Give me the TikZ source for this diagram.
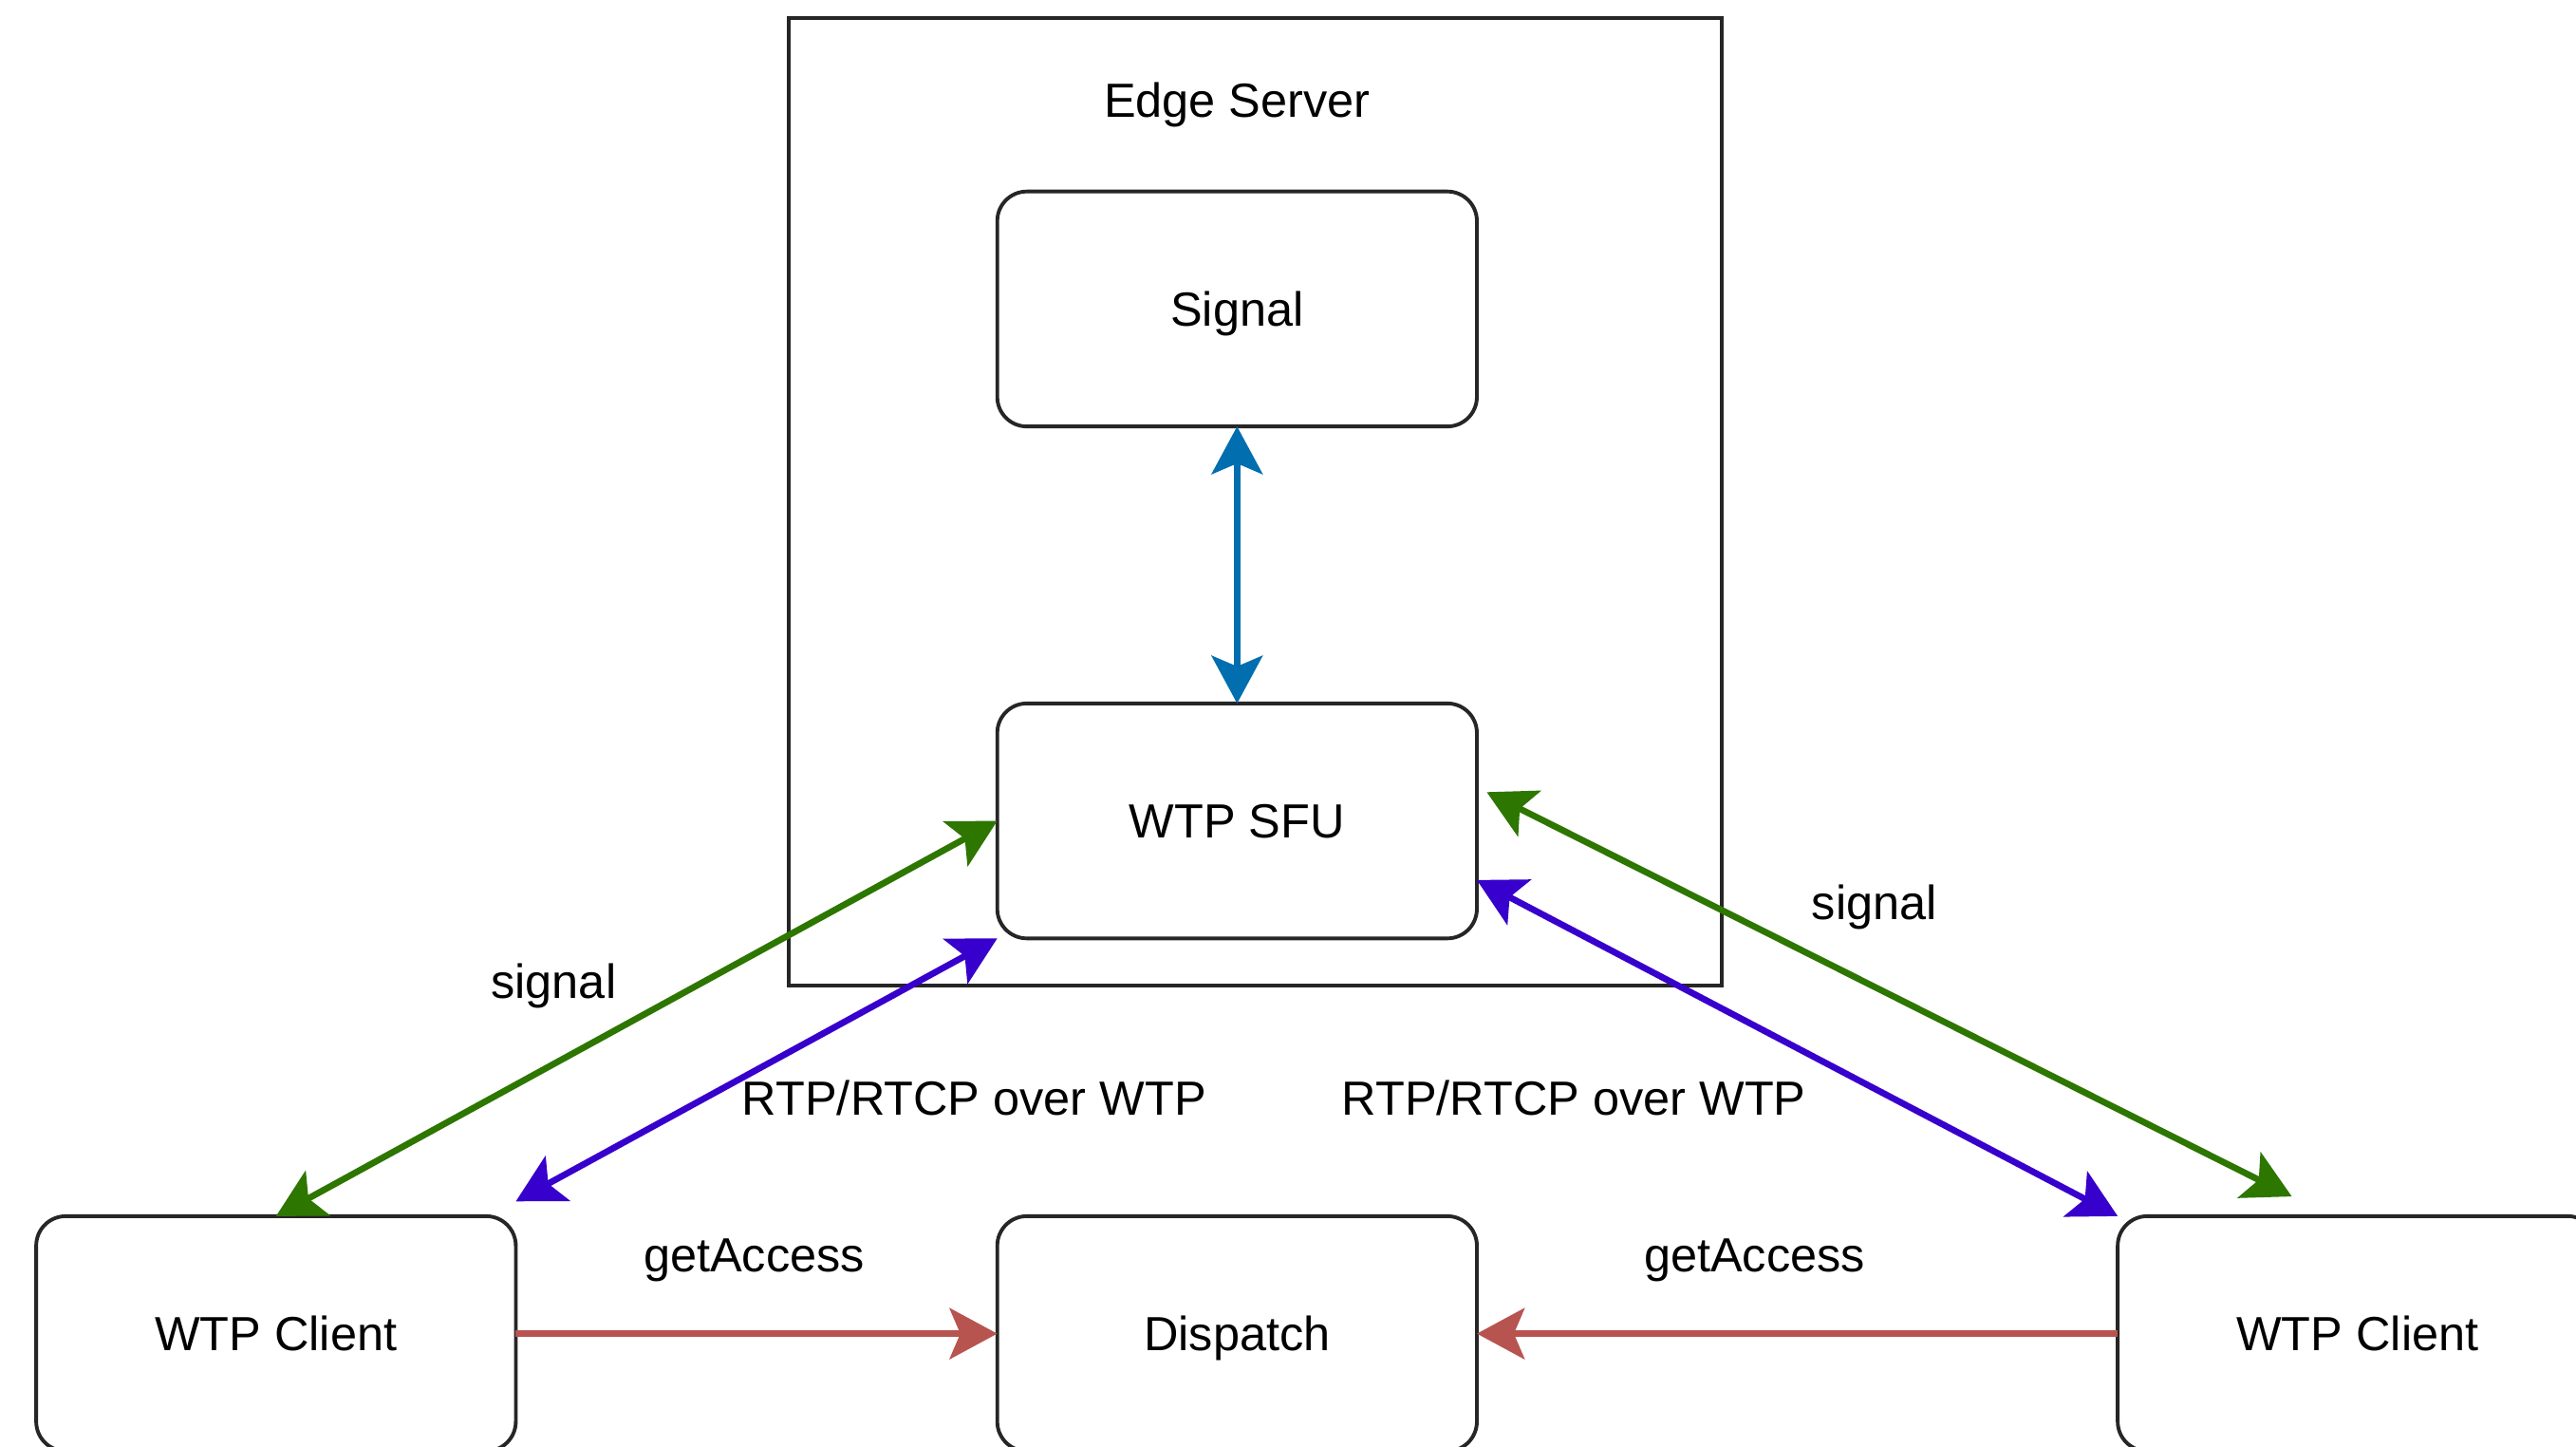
\documentclass[tikz,border=0pt]{standalone}
\usepackage{fontspec}
\setmainfont{Liberation Sans}
\usetikzlibrary{arrows.meta,calc}

\definecolor{ctrlblue}{HTML}{006EAF}
\definecolor{siggreen}{HTML}{2D7600}
\definecolor{mediaviolet}{HTML}{3700CC}
\definecolor{accessred}{HTML}{B85450}

\begin{document}
\begin{tikzpicture}[
  x=0.02cm, y=-0.02cm,
  every node/.style={font=\fontsize{16.6}{20}\selectfont, text depth=0pt},
  block/.style={draw=black!85, line width=0.045cm, rounded corners=0.36cm,
    minimum width=5.84cm, minimum height=2.86cm, inner sep=0pt, outer sep=0pt},
  frame/.style={draw=black!85, line width=0.045cm,
    minimum width=11.36cm, minimum height=11.78cm, inner sep=0pt, outer sep=0pt},
  both/.style={line width=0.078cm, {Stealth[length=0.58cm, width=0.62cm, inset=0.13cm]}-{Stealth[length=0.58cm, width=0.62cm, inset=0.13cm]}},
  oneway/.style={line width=0.078cm, -{Stealth[length=0.58cm, width=0.62cm, inset=0.13cm]}},
  tag/.style={inner sep=0pt}
]
% canvas
\useasboundingbox (0,0) rectangle (1568,880);
\fill[white] (0,0) rectangle (1568,880);
\clip (0,0) rectangle (1568,880);

% edge server container
\node[frame] (edge) at (764,305.5) {};
\node[tag] (edgetitle) at (753,61) {Edge Server};

% components
\node[block] (sig) at (753,188) {Signal};
\node[block] (sfu) at (753,499.5) {WTP SFU};
\node[block] (disp) at (753,811.5) {Dispatch};
\node[block] (lc) at (168,811.5) {WTP Client};
\node[block] (rc) at (1435,811.5) {WTP Client};

% signal <-> SFU
\draw[both, ctrlblue] (sig.south) -- (sfu.north);

% access requests
\draw[oneway, accessred] (lc.east) -- (disp.west);
\draw[oneway, accessred] (rc.west) -- (disp.east);

% left client links
\draw[both, siggreen] (lc.north) -- (sfu.west);
\draw[both, mediaviolet] ($(lc.north east)+(0,-9)$) -- (sfu.south west);

% right client links
\draw[both, siggreen] ($(sfu.east)+(6,-17.5)$) -- ($(rc.north)+(-40,-12)$);
\draw[both, mediaviolet] ($(sfu.east)+(0,36)$) -- (rc.north west);

% labels
\node[tag] (lsig) at (337,597) {signal};
\node[tag] (rsig) at (1141,549) {signal};
\node[tag] (lrtp) at (593,668) {RTP/RTCP over WTP};
\node[tag] (rrtp) at (958,668) {RTP/RTCP over WTP};
\node[tag] (lacc) at (459,764) {getAccess};
\node[tag] (racc) at (1068,764) {getAccess};
\end{tikzpicture}
\end{document}
